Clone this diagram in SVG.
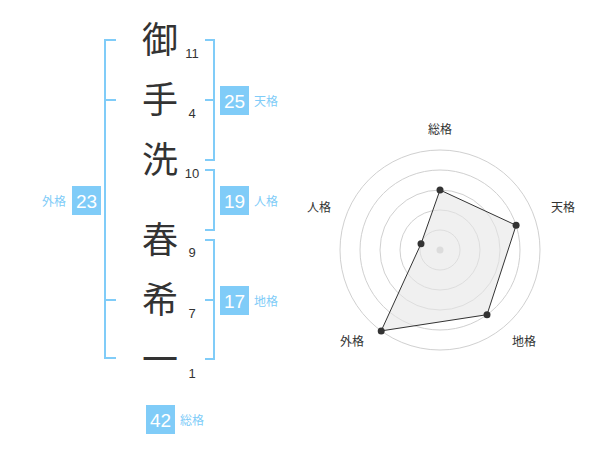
<svg xmlns="http://www.w3.org/2000/svg" width="600" height="470" viewBox="0 0 600 470">
<style>
.ch{font-family:"Noto Sans CJK JP","Noto Sans CJK SC",sans-serif;font-size:36px;fill:#333;text-anchor:middle}
.num{font-family:"Liberation Sans",Arial,sans-serif;font-size:13px;fill:#333;text-anchor:middle}
.br{fill:none;stroke:#80ccf8;stroke-width:2}
.box{fill:#80ccf8}
.bt{font-family:"Liberation Sans",Arial,sans-serif;font-size:19px;fill:#fff;text-anchor:middle}
.lb{font-family:"Noto Sans CJK JP","Noto Sans CJK SC",sans-serif;font-size:12px;fill:#80ccf8}
.ring{fill:none;stroke:#d0d0d0;stroke-width:1}
.rl{font-family:"Noto Sans CJK JP","Noto Sans CJK SC",sans-serif;font-size:12px;fill:#333;text-anchor:middle}
.pt{fill:#333}
</style>
<rect width="600" height="470" fill="#fff"/>
<g id="chars">
<text class="ch" x="160" y="53">御</text>
<text class="ch" x="160" y="113">手</text>
<text class="ch" x="160" y="173">洗</text>
<text class="ch" x="160" y="253">春</text>
<text class="ch" x="160" y="313">希</text>
<text class="ch" x="160" y="373">一</text>
</g>
<g id="strokes">
<text class="num" x="192" y="58">11</text>
<text class="num" x="192" y="118">4</text>
<text class="num" x="192" y="178">10</text>
<text class="num" x="192" y="257">9</text>
<text class="num" x="192" y="318">7</text>
<text class="num" x="192" y="378">1</text>
</g>
<g id="connectors">
<path class="br" d="M116,40 H105 V358 H116 M105,100 H116 M105,300 H116"/>
<path class="br" d="M205,40 H214 V160 H205 M205,100 H214"/>
<path class="br" d="M205,170 H214 V230 H205"/>
<path class="br" d="M205,240 H214 V359 H205 M205,300 H214"/>
</g>
<g id="tenkaku">
<rect class="box" x="220" y="86" width="29" height="29"/>
<text class="bt" x="234.5" y="107.5">25</text>
<text class="lb" x="254" y="105.5">天格</text>
</g>
<g id="jinkaku">
<rect class="box" x="220" y="186" width="29" height="29"/>
<text class="bt" x="234.5" y="207.5">19</text>
<text class="lb" x="254" y="205.5">人格</text>
</g>
<g id="chikaku">
<rect class="box" x="220" y="286" width="29" height="29"/>
<text class="bt" x="234.5" y="307.5">17</text>
<text class="lb" x="254" y="305.5">地格</text>
</g>
<g id="gaikaku">
<rect class="box" x="72" y="186" width="29" height="29"/>
<text class="bt" x="86.5" y="207.5">23</text>
<text class="lb" x="42" y="205.5">外格</text>
</g>
<g id="soukaku">
<rect class="box" x="146" y="405" width="29" height="29"/>
<text class="bt" x="160.5" y="426.5">42</text>
<text class="lb" x="180" y="424.5">総格</text>
</g>
<g id="radar">
<circle class="ring" cx="440" cy="250" r="20"/>
<circle class="ring" cx="440" cy="250" r="40"/>
<circle class="ring" cx="440" cy="250" r="60"/>
<circle class="ring" cx="440" cy="250" r="80"/>
<circle class="ring" cx="440" cy="250" r="100"/>
<circle cx="440" cy="250" r="3.5" fill="#ccc"/>
<polygon points="440,190 516.1,225.3 487,314.7 381.2,330.9 421,243.8" fill="#e6e6e6" fill-opacity="0.6" stroke="#333" stroke-width="1"/>
<circle class="pt" cx="440" cy="190" r="3.5"/>
<circle class="pt" cx="516.1" cy="225.3" r="3.5"/>
<circle class="pt" cx="487" cy="314.7" r="3.5"/>
<circle class="pt" cx="381.2" cy="330.9" r="3.5"/>
<circle class="pt" cx="421" cy="243.8" r="3.5"/>
<text class="rl" x="440" y="134">総格</text>
<text class="rl" x="563" y="212">天格</text>
<text class="rl" x="524" y="346">地格</text>
<text class="rl" x="352" y="346">外格</text>
<text class="rl" x="319" y="212">人格</text>
</g>
</svg>
